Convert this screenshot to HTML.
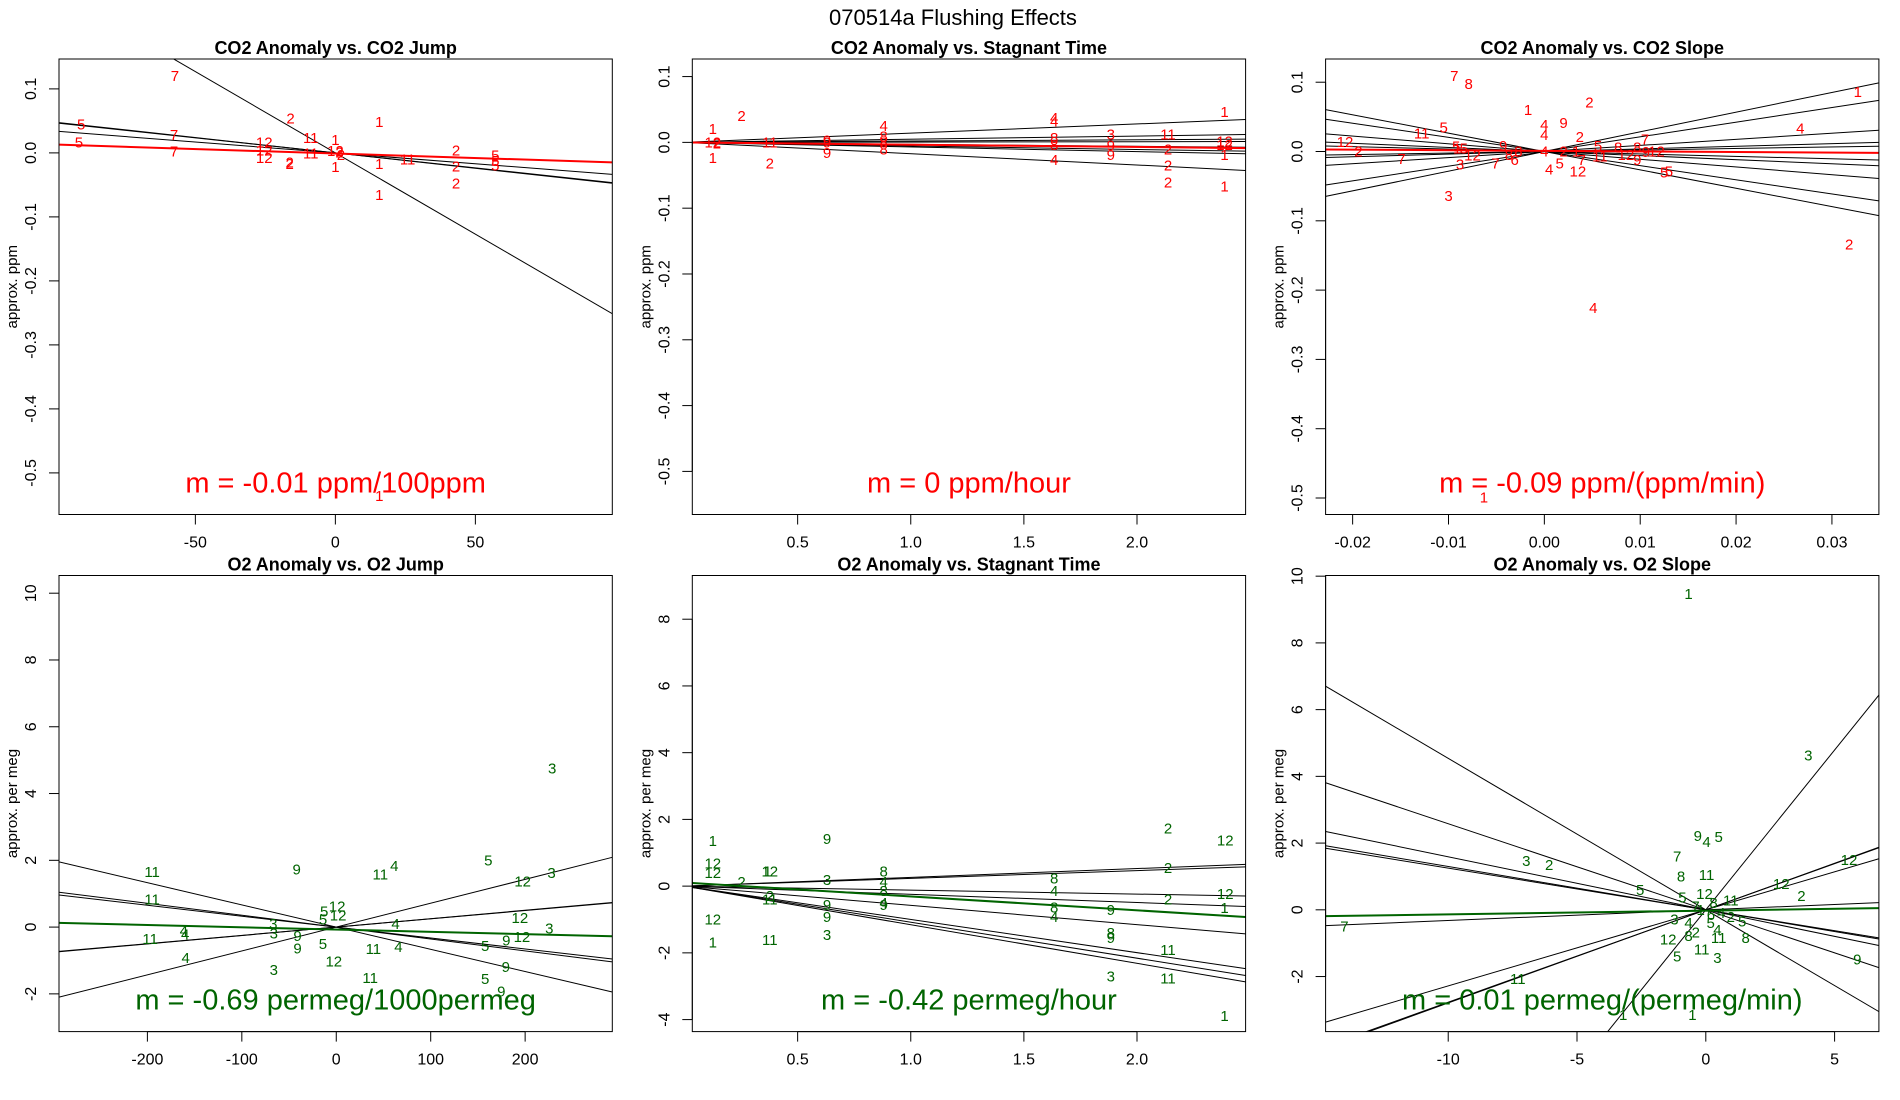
<!DOCTYPE html>
<html><head><meta charset="utf-8"><style>
html,body{margin:0;padding:0;background:#fff;width:1900px;height:1100px;overflow:hidden;}
svg{display:block;font-family:"Liberation Sans",sans-serif;}
</style></head><body>
<svg id="chart" width="1900" height="1100" viewBox="0 0 1900 1100" xmlns="http://www.w3.org/2000/svg">
<text x="953" y="25" font-size="22" text-anchor="middle">070514a   Flushing Effects</text>
</svg>
<script>
// ---------- Panel 1: CO2 Anomaly vs CO2 Jump ----------
const co2JumpX=[-57.3,-16,15.7,-90.8,-57.6,-8.8,0,-25.4,-91.6,-57.6,-25.4,-8.8,0,1.5,2,-25.4,-16.3,-16.3,0,15.7,25.8,43.1,43.1,43.1,57.1,57.1,57.1,15.7,15.7];
const co2JumpY=[0.120,0.054,0.048,0.044,0.028,0.023,0.020,0.016,0.016,0.002,0.004,-0.001,0.003,0.001,-0.003,-0.008,-0.015,-0.017,-0.022,-0.017,-0.010,0.004,-0.021,-0.048,-0.004,-0.013,-0.020,-0.066,-0.536];
const co2JumpLabels=["7","2","1","5","7","11","1","12","5","7","12","11","12","2","2","12","2","2","1","1","11","2","2","2","5","5","5","1","1"];
const co2JumpSlopes=[-0.00254,-0.00048,-0.00047,-0.00034];
const co2JumpFit=[-0.001,-0.00014];
const co2JumpXTicks=[-50,0,50];
const co2JumpXTickLabels=["-50","0","50"];

// ---------- Panel 2: CO2 Anomaly vs Stagnant Time ----------
const co2StagX=[0.125,0.125,0.143,0.125,0.252,0.377,0.377,0.63,0.63,0.63,0.88,0.88,0.88,0.88,1.634,1.634,1.634,1.634,1.634,1.884,1.884,1.884,2.137,2.137,2.137,2.137,2.387,2.387,2.387,2.387,2.387];
const co2StagY=[0.020,0,-0.002,-0.024,0.040,0,-0.032,0.003,0,-0.016,0.025,0.009,0,-0.011,0.037,0.032,0.007,-0.004,-0.027,0.012,-0.005,-0.019,0.012,-0.011,-0.035,-0.061,0.046,0.001,-0.004,-0.019,-0.067];
const co2StagLabels=["1","12","2","1","2","11","2","9","9","9","4","8","8","8","4","4","8","8","4","3","9","9","11","2","2","2","1","12","12","1","1"];
const co2StagSlopes=[0.0140,0.0048,0.0020,0.0005,-0.0030,-0.0054,-0.0070,-0.0172];
const co2StagFit=[0,-0.0035];
const stagXTicks=[0.5,1.0,1.5,2.0];
const stagXTickLabels=["0.5","1.0","1.5","2.0"];

// ---------- Panel 3: CO2 Anomaly vs CO2 Slope ----------
const co2SlopeX=[-0.0094,-0.0079,-0.0017,0.0047,0,0.002,0,-0.0105,-0.0128,-0.0208,-0.0194,0.0037,0.0327,0.0267,-0.0149,-0.0088,-0.010,-0.0075,-0.0092,-0.0051,-0.0043,-0.0037,-0.0031,-0.0027,0,0.0005,0.0016,0.0035,0.002,0.0033,0.0039,0.0056,0.0058,0.0077,0.0085,0.0097,0.0097,0.0106,0.0117,0.0105,0.0125,0.0130,0.0318,0.0051,-0.0063,-0.0091,-0.0084];
const co2SlopeY=[0.109,0.0976,0.060,0.071,0.038,0.041,0.024,0.035,0.026,0.014,0.0,0.021,0.086,0.033,-0.011,-0.019,-0.064,-0.006,0.007,-0.017,0.008,-0.005,-0.012,0.0,0,-0.026,-0.017,-0.029,0,0,-0.012,0.008,-0.007,0.006,-0.005,-0.012,0.006,-0.001,0,0.017,-0.030,-0.029,-0.134,-0.226,-0.499,0.004,0.004];
const co2SlopeLabels=["7","8","1","2","4","9","4","5","11","12","2","2","1","4","7","3","3","12","5","7","9","8","6","8","4","4","5","12","2","1","7","5","11","8","12","9","8","9","12","7","5","5","2","4","1","1","5"];
const co2SlopeSlopes=[2.84,2.115,0.88,0.376,0.22,-0.35,-0.59,-1.115,-2.04,-2.65];
const co2SlopeFit=[0.001,-0.086];
const co2SlopeXTicks=[-0.02,-0.01,0,0.01,0.02,0.03];
const co2SlopeXTickLabels=["-0.02","-0.01","0.00","0.01","0.02","0.03"];

const co2YTicks=[-0.5,-0.4,-0.3,-0.2,-0.1,0,0.1];
const co2YTickLabels=["-0.5","-0.4","-0.3","-0.2","-0.1","0.0","0.1"];

// ---------- Panel 4: O2 Anomaly vs O2 Jump ----------
const o2JumpX=[228.6,161,61.5,46.6,-41.9,-195,228,197.4,-195,0.9,-12.8,2,-14,194.4,-66.7,62.8,-161.5,-160,-66.2,-197,-41,225.6,196.6,180,157.7,-14.1,39.3,65.8,-41,-159.4,-2.6,179.5,-66.2,35.9,157.7,174.8];
const o2JumpY=[4.75,1.99,1.83,1.57,1.72,1.65,1.62,1.36,0.83,0.62,0.46,0.35,0.23,0.27,0.09,0.09,-0.12,-0.22,-0.19,-0.35,-0.27,-0.04,-0.29,-0.40,-0.57,-0.5,-0.66,-0.59,-0.64,-0.92,-1.03,-1.19,-1.29,-1.53,-1.55,-1.93];
const o2JumpLabels=["3","5","4","11","9","11","3","12","11","12","5","12","5","12","3","4","4","4","3","11","9","3","12","9","5","5","11","4","9","4","12","9","3","11","5","9"];
const o2JumpSlopes=[0.00715,0.00248,0.00252,-0.00327,-0.00356,-0.00665];
const o2JumpFit=[-0.074,-0.000681];
const o2JumpXTicks=[-200,-100,0,100,200];
const o2JumpXTickLabels=["-200","-100","0","100","200"];
const o2JumpYTicks=[-2,0,2,4,6,8,10];

// ---------- Panel 5: O2 Anomaly vs Stagnant Time ----------
const o2StagX=[0.125,0.63,2.137,2.39,0.125,0.125,0.377,0.367,0.252,0.63,0.88,0.88,0.88,0.88,0.88,0.377,0.377,0.63,0.63,0.63,0.125,0.125,0.377,1.634,1.634,1.634,1.634,1.884,1.884,1.884,1.884,2.137,2.137,2.137,2.137,2.39,2.387,2.387];
const o2StagY=[1.36,1.42,1.73,1.37,0.68,0.39,0.44,0.44,0.13,0.18,0.44,0.13,-0.14,-0.5,-0.56,-0.29,-0.4,-0.56,-0.93,-1.47,-1.0,-1.69,-1.61,0.23,-0.14,-0.64,-0.93,-0.72,-1.40,-1.56,-2.71,0.55,-0.4,-1.92,-2.77,-0.24,-0.66,-3.89];
const o2StagLabels=["1","9","2","12","12","12","12","1","2","3","8","4","8","4","9","2","11","9","9","3","12","1","11","8","4","8","4","9","8","9","3","2","2","11","11","12","1","1"];
const o2StagSlopes=[0.263,0.233,-0.119,-0.246,-0.577,-0.997,-1.08,-1.157];
const o2StagFit=[0.109,-0.417];
const o2StagYTicks=[-4,-2,0,2,4,6,8];

// ---------- Panel 6: O2 Anomaly vs O2 Slope ----------
const o2SlopeX=[-0.67,3.98,-0.31,0.03,0.5,-1.11,-6.97,-6.08,5.56,-0.96,0.03,2.93,-2.55,3.71,-0.91,-0.05,0.97,-14.03,-1.22,-0.67,0.19,0.97,1.41,-0.67,-0.39,-1.46,1.55,0.5,-0.16,-1.11,0.45,5.88,-7.3,-3.21,-0.52,-0.4,0.3,0.6,0.2,-0.2,0.45];
const o2SlopeY=[9.46,4.63,2.21,2.03,2.18,1.6,1.47,1.34,1.49,1.0,1.05,0.77,0.6,0.42,0.37,0.47,0.28,-0.5,-0.29,-0.4,-0.4,-0.21,-0.35,-0.79,-0.68,-0.89,-0.84,-0.84,-1.19,-1.40,-1.44,-1.49,-2.07,-3.15,-3.15,0.1,0.2,-0.1,-0.15,0.0,-0.6];
const o2SlopeLabels=["1","3","9","4","5","7","3","2","12","8","11","12","5","2","5","12","11","7","3","4","5","2","5","8","2","12","8","11","11","5","3","9","11","1","1","7","8","4","6","1","4"];
const o2SlopeSlopes=[-0.454,-0.258,-0.159,-0.130,-0.125,0.032,0.228,0.277,0.279,0.958];
const o2SlopeFit=[-0.025,0.0112];
const o2SlopeXTicks=[-10,-5,0,5];
const o2SlopeXTickLabels=["-10","-5","0","5"];
const o2SlopeYTicks=[-2,0,2,4,6,8,10];

const NS="http://www.w3.org/2000/svg";
const svg=document.getElementById('chart');
function mk(tag,attrs,parent){const e=document.createElementNS(NS,tag);for(const k in attrs)e.setAttribute(k,attrs[k]);(parent||svg).appendChild(e);return e;}

function panel(id,col,row,title,xlim,ylim,xt,xtl,yt,ytl,ylab,xs,ys,labs,slopes,fit,color,mtext){
  const L=[59,692.3,1325.6][col], R=L+553.3;
  const T=row?575.5:59, B=row?1031.6:514.5;
  const xf=v=>L+(v-xlim[0])/(xlim[1]-xlim[0])*(R-L);
  const yf=v=>B-(v-ylim[0])/(ylim[1]-ylim[0])*(B-T);
  const g=mk('g',{});
  
  
  const clipId='clip-'+id;
  const cp=mk('clipPath',{id:clipId},g);
  mk('rect',{x:L,y:T,width:R-L,height:B-T},cp);
  const t=mk('text',{x:(L+R)/2,y:T-5,'font-size':18,'font-weight':'bold','text-anchor':'middle'},g);
  t.textContent=title;
  
  
  const lg=mk('g',{'clip-path':'url(#'+clipId+')'},g);
  
  
  slopes.forEach(s=>{
    const ln=mk('line',{x1:xf(xlim[0]),y1:yf(s*xlim[0]),x2:xf(xlim[1]),y2:yf(s*xlim[1]),stroke:'#000','stroke-width':1},lg);
    
    
  });
  const fl=mk('line',{x1:xf(xlim[0]),y1:yf(fit[0]+fit[1]*xlim[0]),x2:xf(xlim[1]),y2:yf(fit[0]+fit[1]*xlim[1]),stroke:color,'stroke-width':2},lg);
  
  
  const pg=mk('g',{'clip-path':'url(#'+clipId+')'},g);
  
  
  xs.forEach((x,i)=>{
    const p=mk('text',{x:xf(x),y:yf(ys[i])+5,'font-size':15,fill:color,'text-anchor':'middle'},pg);
    p.textContent=labs[i];
    
    
  });
  const bx=mk('rect',{x:L,y:T,width:R-L,height:B-T,fill:'none',stroke:'#000','stroke-width':1},g);
  
  
  const xa=mk('g',{},g);
  
  
  mk('line',{x1:xf(xt[0]),y1:B,x2:xf(xt[xt.length-1]),y2:B,stroke:'#000'},xa);
  xt.forEach((v,i)=>{
    mk('line',{x1:xf(v),y1:B,x2:xf(v),y2:B+10,stroke:'#000'},xa);
    const tl=mk('text',{x:xf(v),y:B+33,'font-size':16,'text-anchor':'middle'},xa);
    tl.textContent=xtl[i];
    
    
  });
  const ya=mk('g',{},g);
  
  
  mk('line',{x1:L,y1:yf(yt[0]),x2:L,y2:yf(yt[yt.length-1]),stroke:'#000'},ya);
  yt.forEach((v,i)=>{
    mk('line',{x1:L-10,y1:yf(v),x2:L,y2:yf(v),stroke:'#000'},ya);
    const cx=L-23, cy=yf(v);
    const tl=mk('text',{x:cx,y:cy,'font-size':16,'text-anchor':'middle',transform:'rotate(-90 '+cx+' '+cy+')'},ya);
    tl.textContent=ytl[i];
    
    
  });
  const ax=L-42, ay=(T+B)/2;
  const yl=mk('text',{x:ax,y:ay,'font-size':15,'text-anchor':'middle',transform:'rotate(-90 '+ax+' '+ay+')'},g);
  yl.textContent=ylab;
  
  
  const m=mk('text',{x:(L+R)/2,y:B-22,'font-size':29,fill:color,'text-anchor':'middle'},g);
  m.textContent=mtext;
  
  
}
const RED='#ff0000', GRN='#006400';
panel('co2-jump',0,0,'CO2 Anomaly vs. CO2 Jump',[-98.7,98.9],[-0.565,0.1467],co2JumpXTicks,co2JumpXTickLabels,co2YTicks,co2YTickLabels,'approx. ppm',co2JumpX,co2JumpY,co2JumpLabels,co2JumpSlopes,co2JumpFit,RED,'m = -0.01 ppm/100ppm');
panel('co2-stagnant',1,0,'CO2 Anomaly vs. Stagnant Time',[0.0344,2.48],[-0.5655,0.1267],stagXTicks,stagXTickLabels,co2YTicks,co2YTickLabels,'approx. ppm',co2StagX,co2StagY,co2StagLabels,co2StagSlopes,co2StagFit,RED,'m = 0 ppm/hour');
panel('co2-slope',2,0,'CO2 Anomaly vs. CO2 Slope',[-0.02282,0.0349],[-0.5238,0.1335],co2SlopeXTicks,co2SlopeXTickLabels,co2YTicks,co2YTickLabels,'approx. ppm',co2SlopeX,co2SlopeY,co2SlopeLabels,co2SlopeSlopes,co2SlopeFit,RED,'m = -0.09 ppm/(ppm/min)');
panel('o2-jump',0,1,'O2 Anomaly vs. O2 Jump',[-293.6,292.3],[-3.13,10.53],o2JumpXTicks,o2JumpXTickLabels,o2JumpYTicks,o2JumpYTicks.map(String),'approx. per meg',o2JumpX,o2JumpY,o2JumpLabels,o2JumpSlopes,o2JumpFit,GRN,'m = -0.69 permeg/1000permeg');
panel('o2-stagnant',1,1,'O2 Anomaly vs. Stagnant Time',[0.0344,2.48],[-4.36,9.31],stagXTicks,stagXTickLabels,o2StagYTicks,o2StagYTicks.map(String),'approx. per meg',o2StagX,o2StagY,o2StagLabels,o2StagSlopes,o2StagFit,GRN,'m = -0.42 permeg/hour');
panel('o2-slope',2,1,'O2 Anomaly vs. O2 Slope',[-14.76,6.72],[-3.65,10.02],o2SlopeXTicks,o2SlopeXTickLabels,o2SlopeYTicks,o2SlopeYTicks.map(String),'approx. per meg',o2SlopeX,o2SlopeY,o2SlopeLabels,o2SlopeSlopes,o2SlopeFit,GRN,'m = 0.01 permeg/(permeg/min)');
</script>
</body></html>
